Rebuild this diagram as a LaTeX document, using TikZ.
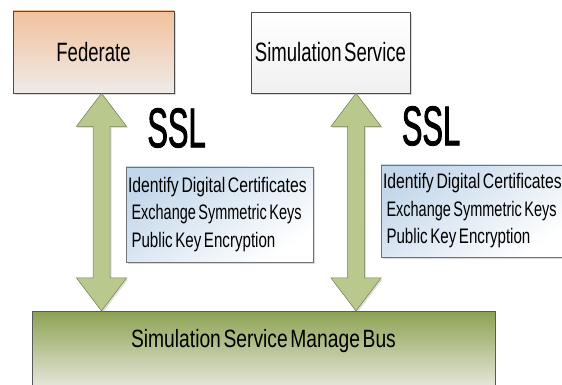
\documentclass[tikz,border=0pt]{standalone}
\usepackage{fontspec}
\setmainfont{Liberation Sans}
\newfontfamily\boxfont[FakeStretch=0.70,WordSpace=0.5]{Liberation Sans}
\newfontfamily\notefont[FakeStretch=0.75]{Liberation Sans}
\newfontfamily\busfont[FakeStretch=0.77,WordSpace=0.5]{Liberation Sans}
\newfontfamily\sslfont[FakeStretch=0.55,FakeBold=1.5]{Liberation Sans}
\usetikzlibrary{calc,shadows}

\definecolor{fedtop}{HTML}{F2C19D}
\definecolor{fedbot}{HTML}{EFEBE8}
\definecolor{bustop}{HTML}{8CA253}
\definecolor{busbot}{HTML}{EDEDE6}
\definecolor{arrowfill}{HTML}{B9C88C}
\definecolor{arrowline}{HTML}{6F7D50}
\definecolor{notetop}{HTML}{C3D7EA}

\tikzset{
  boxshadow/.style={drop shadow={shadow xshift=2pt,shadow yshift=-2pt,opacity=.3,fill=gray}},
  topbox/.style={draw=black!70,line width=.6pt,boxshadow,inner sep=0pt,
    font=\boxfont\fontsize{26.5}{30}\selectfont},
  busbox/.style={draw=black!65,line width=.8pt,top color=bustop,bottom color=busbot,inner sep=0pt},
  notebox/.style={draw=black!55,line width=.5pt,boxshadow,top color=notetop,bottom color=white,
    shading angle=35,inner xsep=2pt,inner ysep=0pt,minimum width=187pt,text width=183pt,
    align=left,font=\notefont\fontsize{21}{27.5}\selectfont},
  ssltext/.style={font=\sslfont\fontsize{56}{56}\selectfont,inner sep=0pt},
  arrowbody/.style={fill=arrowfill,draw=arrowline,line width=.5pt,line join=miter,
    drop shadow={shadow xshift=1.5pt,shadow yshift=-1.5pt,opacity=.25,fill=gray}}
}

% double headed block arrow from #1 (top) down to #2 (bottom)
\newcommand{\sslarrow}[2]{%
  \draw[arrowbody] let \p1=(#1), \p2=(#2) in
    (\x1,\y1) -- (\x1+25pt,\y1-33pt) -- (\x1+8.5pt,\y1-33pt) -- (\x1+8.5pt,\y2+33pt)
    -- (\x1+25pt,\y2+33pt) -- (\x2,\y2) -- (\x1-25pt,\y2+33pt) -- (\x1-8.5pt,\y2+33pt)
    -- (\x1-8.5pt,\y1-33pt) -- (\x1-25pt,\y1-33pt) -- cycle;}

% squeeze one line horizontally
\newcommand{\squeeze}[2]{\scalebox{#1}[1]{#2}}
% the three lines of a note, kept unbroken and tightly spaced
\newcommand{\ssllines}{\spaceskip=.13em\relax
  \mbox{Identify Digital Certificates}\\
  \mbox{\,\squeeze{.92}{Exchange Symmetric Keys}}\\
  \mbox{\,\squeeze{.96}{Public Key Encryption}}}

\begin{document}
\begin{tikzpicture}[x=1pt,y=1pt]
  \useasboundingbox[fill=white] (0,0) rectangle (562,385);

  % endpoints
  \node[topbox,top color=fedtop,bottom color=fedbot,minimum width=161pt,minimum height=82pt]
    (fed) at (93.5,333) {Federate};
  \node[topbox,top color=white,bottom color=black!6,minimum width=159pt,minimum height=81pt]
    (sim) at (330.5,332.5) {Simulation Service};

  % the bus runs off the bottom edge
  \node[busbox,anchor=north,minimum width=463pt,minimum height=82pt] (bus) at (263.5,74) {};
  \node[font=\busfont\fontsize{25}{28}\selectfont,inner sep=0pt]
    (busname) at ($(bus.north)+(0,-30)$) {Simulation Service Manage Bus};

  % secure links
  \coordinate (fedport) at ([xshift=8pt]fed.south);
  \coordinate (simport) at ([xshift=25.5pt]sim.south);
  \sslarrow{fedport}{bus.north -| fedport}
  \sslarrow{simport}{bus.north -| simport}

  \node[ssltext] (fedssl) at (176.5,257) {SSL};
  \node[ssltext] (simssl) at (431,259) {SSL};

  \node[notebox,minimum height=95pt] (fednote) at (219.5,170.5) {\ssllines};
  \node[notebox,minimum height=92pt] (simnote) at (474.5,174) {\ssllines};
\end{tikzpicture}
\end{document}
